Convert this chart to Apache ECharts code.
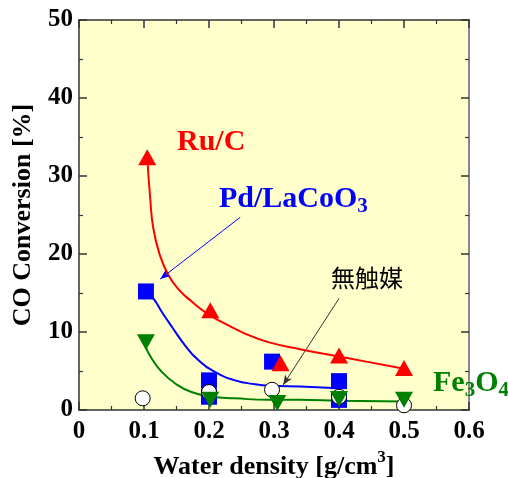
<!DOCTYPE html>
<html><head><meta charset="utf-8">
<script src="https://cdn.jsdelivr.net/npm/echarts@6/dist/echarts.min.js"></script>
<style>html,body{margin:0;padding:0;background:#fff}#c{width:508px;height:478px}</style>
</head><body><div id="c"></div>
<script>
// Measured points
const ruX = [0.105, 0.202, 0.31, 0.40, 0.50];
const ruY = [32.4, 12.8, 6.0, 7.0, 5.4];
const pdX = [0.103, 0.20, 0.20, 0.297, 0.40, 0.40];
const pdY = [15.2, 3.8, 1.7, 6.2, 3.7, 1.3];
const feX = [0.103, 0.202, 0.305, 0.40, 0.50];
const feY = [8.7, 1.3, 0.9, 1.4, 1.3];
const noneX = [0.098, 0.20, 0.297, 0.40, 0.50];
const noneY = [1.5, 2.3, 2.6, 1.7, 0.6];
// Fitted curves
const ruCurveX = [0.105, 0.1092, 0.1143, 0.1246, 0.1374, 0.1528, 0.1734, 0.1965, 0.2195, 0.2554, 0.2912, 0.34, 0.391, 0.442, 0.50];
const ruCurveY = [32.4, 27.5, 23.3, 19.8, 17.3, 15.5, 13.9, 12.4, 11.3, 9.8, 8.7, 7.8, 7.0, 6.2, 5.3];
const pdCurveX = [0.103, 0.1143, 0.1272, 0.1426, 0.163, 0.1835, 0.209, 0.24, 0.271, 0.296, 0.34, 0.40];
const pdCurveY = [15.2, 14.3, 12.6, 10.7, 8.3, 6.4, 4.9, 3.8, 3.3, 3.1, 3.0, 2.8];
const feCurveX = [0.1015, 0.1118, 0.1272, 0.148, 0.173, 0.204, 0.24, 0.291, 0.34, 0.40, 0.50];
const feCurveY = [8.3, 6.6, 4.9, 3.4, 2.3, 1.7, 1.5, 1.3, 1.3, 1.2, 1.1];
// Annotation arrows (data coordinates)
const pdArrow = [[0.248, 24.7], [0.125, 16.8]];
const noneArrow = [[0.4, 14.3], [0.314, 3.2]];
// Axes
const xTicks = [0, 0.6, 0.1];
const yTicks = [0, 50, 10];

const pairs = (xs, ys) => xs.map((x, i) => [x, ys[i]]);
const serif = 'Liberation Serif';
const RED = '#ff0000', BLUE = '#0000ff', GREEN = '#008000';

function axisCommon(showLabel, extra) {
  return Object.assign({
    type: 'value',
    axisLine: { show: true, onZero: false, lineStyle: { color: '#333', width: 1.5 } },
    axisTick: { show: true, inside: true, length: 8, lineStyle: { color: '#333', width: 1.5 } },
    minorTick: { show: true, splitNumber: 2, length: 4, lineStyle: { color: '#333', width: 1.2 } },
    splitLine: { show: false },
    axisLabel: { show: showLabel, color: '#000', fontFamily: serif, fontWeight: 'bold', fontSize: 25 }
  }, extra);
}

const chart = echarts.init(document.getElementById('c'), null, { renderer: 'canvas' });
chart.setOption({
  animation: false,
  backgroundColor: '#fff',
  grid: { left: 79, top: 20, right: 39, bottom: 68, show: true, backgroundColor: '#ffffcc', borderWidth: 0,
    containLabel: false, outerBoundsMode: 'none' },
  xAxis: [
    axisCommon(true, {
      min: xTicks[0], max: xTicks[1], interval: xTicks[2], position: 'bottom',
      name: '{a|Water density [g/cm}{s|3}{a|]}', nameLocation: 'middle', nameGap: 32,
      nameTextStyle: { rich: {
        a: { fontFamily: serif, fontWeight: 'bold', fontSize: 26, color: '#000', lineHeight: 36 },
        s: { fontFamily: serif, fontWeight: 'bold', fontSize: 17, color: '#000', lineHeight: 14, verticalAlign: 'top' }
      } },
      axisLabel: { show: true, color: '#000', fontFamily: serif, fontWeight: 'bold', fontSize: 25, margin: 9,
        formatter: v => String(+v.toFixed(1)) }
    }),
    axisCommon(false, { min: xTicks[0], max: xTicks[1], interval: xTicks[2], position: 'top' })
  ],
  yAxis: [
    axisCommon(true, {
      min: yTicks[0], max: yTicks[1], interval: yTicks[2], position: 'left',
      name: 'CO Conversion [%]', nameLocation: 'middle', nameGap: 43,
      nameTextStyle: { fontFamily: serif, fontWeight: 'bold', fontSize: 26, color: '#000' },
      axisLabel: { show: true, color: '#000', fontFamily: serif, fontWeight: 'bold', fontSize: 25, margin: 6 }
    }),
    axisCommon(false, { min: yTicks[0], max: yTicks[1], interval: yTicks[2], position: 'right',
      axisLine: { show: true, onZero: false, lineStyle: { color: '#888', width: 2 } } })
  ],
  series: [
    { type: 'line', data: pairs(ruCurveX, ruCurveY), smooth: 0.5, showSymbol: false, z: 2,
      lineStyle: { color: RED, width: 2 }, silent: true },
    { type: 'line', data: pairs(pdCurveX, pdCurveY), smooth: 0.5, showSymbol: false, z: 2,
      lineStyle: { color: BLUE, width: 2 }, silent: true,
      markLine: { silent: true, symbol: ['none', 'arrow'], symbolSize: [6, 10], label: { show: false },
        lineStyle: { color: BLUE, width: 1, type: 'solid' },
        data: [[{ coord: pdArrow[0] }, { coord: pdArrow[1] }]] } },
    { type: 'line', data: pairs(feCurveX, feCurveY), smooth: 0.5, showSymbol: false, z: 2,
      lineStyle: { color: GREEN, width: 2 }, silent: true,
      markLine: { silent: true, symbol: ['none', 'arrow'], symbolSize: [6, 10], label: { show: false },
        lineStyle: { color: '#333', width: 1, type: 'solid' },
        data: [[{ coord: noneArrow[0] }, { coord: noneArrow[1] }]] } },
    { type: 'scatter', data: pairs(pdX, pdY), symbol: 'rect', symbolSize: 16, z: 3,
      itemStyle: { color: BLUE, opacity: 1 } },
    { type: 'scatter', data: pairs(noneX, noneY), symbol: 'circle', symbolSize: 15, z: 4,
      itemStyle: { color: '#fff', borderColor: '#000', borderWidth: 1, opacity: 1 } },
    { type: 'scatter', data: pairs(ruX, ruY), symbol: 'triangle', symbolSize: [18, 16], z: 5,
      itemStyle: { color: RED, opacity: 1 } },
    { type: 'scatter', data: pairs(feX, feY), symbol: 'triangle', symbolRotate: 180, symbolSize: [18, 16], z: 6,
      itemStyle: { color: GREEN, opacity: 1 } }
  ],
  graphic: [
    { type: 'text', x: 177, y: 142.4, z: 10, style: {
      text: '{a|Ru/C}', verticalAlign: 'middle', align: 'left',
      rich: { a: { fontFamily: serif, fontWeight: 'bold', fontSize: 30, fill: RED, lineHeight: 36 } } } },
    { type: 'text', x: 219, y: 199.1, z: 10, style: {
      text: '{a|Pd/LaCoO}{s|3}', verticalAlign: 'middle', align: 'left',
      rich: {
        a: { fontFamily: serif, fontWeight: 'bold', fontSize: 30, fill: BLUE, lineHeight: 36 },
        s: { fontFamily: serif, fontWeight: 'bold', fontSize: 21, fill: BLUE, lineHeight: 18, verticalAlign: 'bottom' } } } },
    { type: 'text', x: 433, y: 383.1, z: 10, style: {
      text: '{a|Fe}{s|3}{a|O}{s|4}', verticalAlign: 'middle', align: 'left',
      rich: {
        a: { fontFamily: serif, fontWeight: 'bold', fontSize: 30, fill: GREEN, lineHeight: 36 },
        s: { fontFamily: serif, fontWeight: 'bold', fontSize: 21, fill: GREEN, lineHeight: 18, verticalAlign: 'bottom' } } } },
    { type: 'text', x: 331, y: 277.5, z: 10, style: {
      text: '無触媒', verticalAlign: 'middle', align: 'left',
      font: '24px "Noto Sans CJK JP"', fill: '#000' } }
  ]
});
</script></body></html>
